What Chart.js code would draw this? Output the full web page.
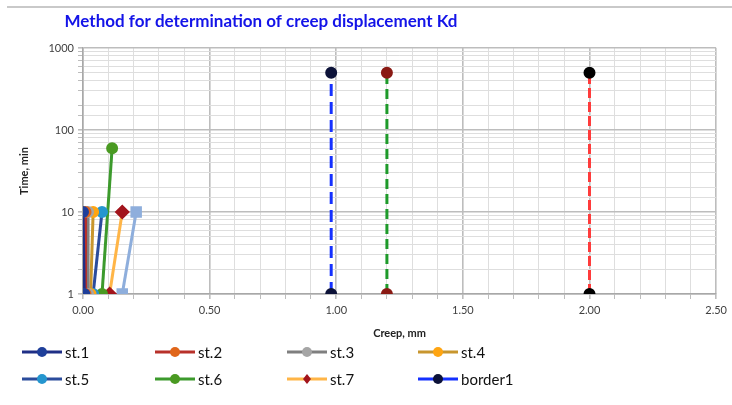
<!DOCTYPE html>
<html>
<head>
<meta charset="utf-8">
<script src="https://cdn.jsdelivr.net/npm/chart.js@4"></script>
<style>
  html, body { margin: 0; padding: 0; background: #ffffff; }
  #wrap { width: 732px; height: 405px; position: relative; }
</style>
</head>
<body>
<div id="wrap"><canvas id="chart" width="732" height="405"></canvas></div>
<script>
// Creep (mm) against elapsed time (min) for each loading stage
const stageNames = ['st.1', 'st.2', 'st.3', 'st.4', 'st.5', 'st.6', 'st.7', 'st.8'];
const st1Creep = [0.005, 0.00];  const st1Time = [1, 10];
const st2Creep = [0.010, 0.010]; const st2Time = [1, 10];
const st3Creep = [0.020, 0.020]; const st3Time = [1, 10];
const st4Creep = [0.030, 0.040]; const st4Time = [1, 10];
const st5Creep = [0.040, 0.075]; const st5Time = [1, 10];
const st6Creep = [0.075, 0.115]; const st6Time = [1, 60];
const st7Creep = [0.105, 0.155]; const st7Time = [1, 10];
const st8Creep = [0.155, 0.210]; const st8Time = [1, 10];

// Limit lines used to pick the creep displacement Kd
const borderNames = ['border1', 'border2', 'border3'];
const border1Creep = [0.98, 0.98];
const border2Creep = [1.20, 1.20];
const border3Creep = [2.00, 2.00];
const borderTime = [1, 500];

// Axis ticks
const xMajorTicks = [0, 0.5, 1.0, 1.5, 2.0, 2.5];
const yMajorTicks = [1, 10, 100, 1000];

const pts = (xs, ys) => xs.map((x, i) => ({ x: x, y: ys[i] }));

function stage(i, xs, ys, line, marker, shape, radius) {
  return {
    label: stageNames[i],
    data: pts(xs, ys),
    borderColor: line,
    backgroundColor: marker,
    pointBackgroundColor: marker,
    pointBorderColor: marker,
    pointStyle: shape || 'circle',
    pointRadius: radius || 4.5,
    borderWidth: 3,
    showLine: true,
    tension: 0
  };
}
function border(i, xs, line, marker, dash) {
  return {
    label: borderNames[i],
    data: pts(xs, borderTime),
    borderColor: line,
    backgroundColor: marker,
    pointBackgroundColor: marker,
    pointBorderColor: marker,
    pointRadius: 4.5,
    borderWidth: 3,
    borderDash: dash,
    showLine: true,
    tension: 0
  };
}

const datasets = [
  stage(0, st1Creep, st1Time, '#1F2F86', '#1F3F9A'),
  stage(1, st2Creep, st2Time, '#B8312A', '#E0661A'),
  stage(2, st3Creep, st3Time, '#7F7F7F', '#A5A5A5'),
  stage(3, st4Creep, st4Time, '#C8962E', '#FFA512'),
  stage(4, st5Creep, st5Time, '#2B4C9C', '#2596CF'),
  stage(5, st6Creep, st6Time, '#3C9A2C', '#4A9A22'),
  stage(6, st7Creep, st7Time, '#FFB547', '#A2141C', 'rectRot', 5.5),
  stage(7, st8Creep, st8Time, '#8EAEDC', '#8EAEDC', 'rect', 6),
  border(0, border1Creep, '#1430FF', '#0C1238', [12, 6]),
  border(1, border2Creep, '#1E9A2A', '#8A1A14', [10, 5]),
  border(2, border3Creep, '#FF3B3B', '#000000', [10, 4])
];

// Entries shown in the legend box below the plot
const legendEntries = ['st.1', 'st.2', 'st.3', 'st.4', 'st.5', 'st.6', 'st.7', 'border1'];

const legendAndFrame = {
  id: 'legendAndFrame',
  afterDraw(chart) {
    const ctx = chart.ctx;
    ctx.save();
    // frame line along the top
    ctx.strokeStyle = '#C9C9C9';
    ctx.lineWidth = 2;
    ctx.beginPath();
    ctx.moveTo(7, 7); ctx.lineTo(732, 7);
    ctx.stroke();

    // title
    ctx.fillStyle = '#1414E8';
    ctx.font = 'bold 17px Lato';
    ctx.textAlign = 'center';
    ctx.textBaseline = 'middle';
    ctx.fillText('Method for determination of creep displacement Kd', 261, 22);

    // legend grid: 4 columns, 2 rows
    const colX = [22, 155, 287, 418];
    const rowY = [352, 379];
    ctx.font = '15px Lato';
    ctx.textAlign = 'left';
    legendEntries.forEach((name, k) => {
      const ds = datasets.find(d => d.label === name);
      const x0 = colX[k % 4], y = rowY[Math.floor(k / 4)];
      ctx.strokeStyle = ds.borderColor;
      ctx.lineWidth = 3;
      ctx.setLineDash([]);
      ctx.beginPath();
      ctx.moveTo(x0, y); ctx.lineTo(x0 + 40, y);
      ctx.stroke();
      ctx.fillStyle = ds.pointBackgroundColor;
      const cx = x0 + 20;
      if (ds.pointStyle === 'rectRot') {
        ctx.beginPath();
        ctx.moveTo(cx, y - 5); ctx.lineTo(cx + 4, y); ctx.lineTo(cx, y + 5); ctx.lineTo(cx - 4, y);
        ctx.closePath(); ctx.fill();
      } else {
        ctx.beginPath();
        ctx.arc(cx, y, 5, 0, Math.PI * 2);
        ctx.fill();
      }
      ctx.fillStyle = '#111111';
      ctx.fillText(name, x0 + 43, y + 1);
    });
    ctx.restore();
  }
};

const isMajorX = v => Math.abs(v * 2 - Math.round(v * 2)) < 1e-6;
const isMajorY = v => Math.abs(Math.log10(v) - Math.round(Math.log10(v))) < 1e-6;

new Chart(document.getElementById('chart'), {
  type: 'scatter',
  data: { datasets: datasets },
  plugins: [legendAndFrame],
  options: {
    responsive: false,
    animation: false,
    layout: { padding: { left: 0, right: 15, top: 48, bottom: 62 } },
    plugins: {
      legend: { display: false },
      title: { display: false },
      tooltip: { enabled: false }
    },
    scales: {
      x: {
        type: 'linear',
        min: xMajorTicks[0],
        max: xMajorTicks[xMajorTicks.length - 1],
        ticks: {
          stepSize: 0.1,
          autoSkip: false,
          maxRotation: 0,
          color: '#404040',
          font: { family: 'Lato', size: 11 },
          padding: 5,
          callback: v => isMajorX(v) && xMajorTicks.some(t => Math.abs(t - v) < 1e-6) ? v.toFixed(2) : ''
        },
        grid: {
          color: c => (c.tick && isMajorX(c.tick.value)) ? '#BDBDBD' : '#DEDEDE',
          lineWidth: c => (c.tick && isMajorX(c.tick.value)) ? 1.6 : 1,
          tickLength: 5,
          tickColor: '#BDBDBD'
        },
        border: { color: '#A8A8A8', width: 1.5 },
        title: {
          display: true,
          text: 'Creep, mm',
          color: '#222222',
          font: { family: 'Lato', size: 11, weight: 'bold' },
          padding: { top: 2, bottom: 3 }
        },
        afterFit: s => { s.height = 49; }
      },
      y: {
        type: 'logarithmic',
        min: yMajorTicks[0],
        max: yMajorTicks[yMajorTicks.length - 1],
        ticks: {
          autoSkip: false,
          color: '#404040',
          font: { family: 'Lato', size: 11 },
          padding: 4,
          callback: v => (isMajorY(v) && yMajorTicks.includes(Math.round(v))) ? String(Math.round(v)) : ''
        },
        grid: {
          color: c => (c.tick && isMajorY(c.tick.value)) ? '#BDBDBD' : '#DEDEDE',
          lineWidth: c => (c.tick && isMajorY(c.tick.value)) ? 1.6 : 1,
          tickLength: 5,
          tickColor: '#BDBDBD'
        },
        border: { color: '#A8A8A8', width: 1.5 },
        title: {
          display: true,
          text: 'Time, min',
          color: '#222222',
          font: { family: 'Lato', size: 11, weight: 'bold' },
          padding: { top: 18, bottom: 0 }
        },
        afterFit: s => { s.width = 83; }
      }
    }
  }
});
</script>
</body>
</html>
